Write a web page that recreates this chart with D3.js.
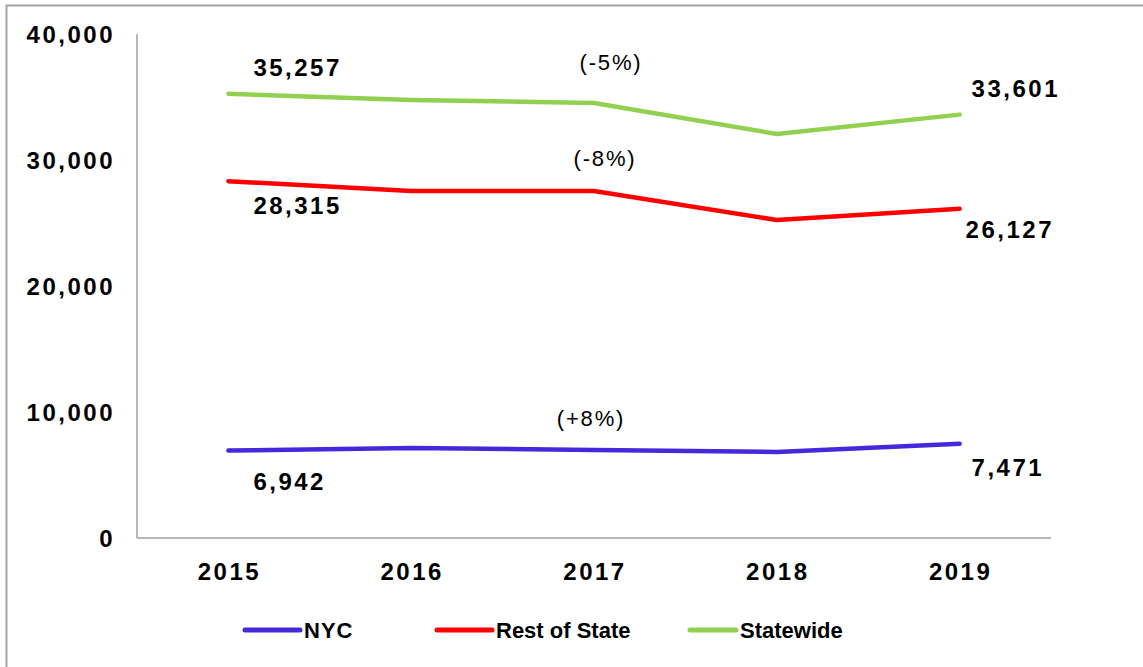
<!DOCTYPE html>
<html lang="en">
<head>
  <meta charset="UTF-8">
  <title>NY line chart</title>
  <script src="https://d3js.org/d3.v7.min.js"></script>
  <style>
    body { margin: 0; background: #fff; }
    text { font-family: "Liberation Sans", Arial, sans-serif; fill: #000; }
    .axis-label { font-size: 24px; font-weight: bold; letter-spacing: 2.5px; }
    .value-label { font-size: 24px; font-weight: bold; letter-spacing: 2.5px; }
    .pct-label { font-size: 22px; letter-spacing: 1.8px; }
    .legend-label { font-size: 22px; font-weight: bold; }
  </style>
</head>
<body>
  <div id="chart"></div>
  <script>
    // Data
    const years = ["2015", "2016", "2017", "2018", "2019"];
    const seriesNames = ["NYC", "Rest of State", "Statewide"];
    const nycValues = [6942, 7143, 6984, 6825, 7471];
    const restValues = [28315, 27540, 27540, 25238, 26127];
    const stateValues = [35257, 34762, 34524, 32063, 33601];
    const yTicks = [0, 10000, 20000, 30000, 40000];
    const pctLabels = ["(+8%)", "(-8%)", "(-5%)"]; // NYC, Rest of State, Statewide

    const colors = { "NYC": "#4428dc", "Rest of State": "#ff0000", "Statewide": "#92d050" };

    const W = 1143, H = 667;
    const margin = { top: 34, right: 92, bottom: 129, left: 137 };
    const width = W - margin.left - margin.right;
    const height = H - margin.top - margin.bottom;

    const svg = d3.select("#chart").append("svg")
      .attr("width", W)
      .attr("height", H);

    // outer frame
    svg.append("rect")
      .attr("x", 6.5).attr("y", 5.5)
      .attr("width", W).attr("height", H)
      .attr("fill", "none")
      .attr("stroke", "#a6a6a6")
      .attr("stroke-width", 2);

    const g = svg.append("g").attr("transform", `translate(${margin.left},${margin.top})`);

    const x = d3.scaleBand().domain(years).range([0, width]);
    const y = d3.scaleLinear().domain([0, 40000]).range([height, 0]);
    const cx = d => x(d) + x.bandwidth() / 2;

    const series = [
      { name: "NYC", values: nycValues, pct: pctLabels[0] },
      { name: "Rest of State", values: restValues, pct: pctLabels[1] },
      { name: "Statewide", values: stateValues, pct: pctLabels[2] }
    ];

    // axes lines
    g.append("line")
      .attr("x1", 0).attr("x2", 0).attr("y1", 0).attr("y2", height)
      .attr("stroke", "#a0a0a0").attr("stroke-width", 1.5);
    g.append("line")
      .attr("x1", 0).attr("x2", width).attr("y1", height).attr("y2", height)
      .attr("stroke", "#a0a0a0").attr("stroke-width", 1.5);

    // y tick labels
    g.selectAll(".ytick")
      .data(yTicks)
      .enter().append("text")
      .attr("class", "axis-label")
      .attr("x", -22)
      .attr("y", d => y(d))
      .attr("dy", "0.36em")
      .attr("text-anchor", "end")
      .text(d => d3.format(",")(d));

    // x tick labels
    g.selectAll(".xtick")
      .data(years)
      .enter().append("text")
      .attr("class", "axis-label")
      .attr("x", d => cx(d) + 1)
      .attr("y", height + 42)
      .attr("text-anchor", "middle")
      .text(d => d);

    // lines
    const line = d3.line()
      .x((d, i) => cx(years[i]))
      .y(d => y(d));

    g.selectAll(".series")
      .data(series)
      .enter().append("path")
      .attr("d", d => line(d.values))
      .attr("fill", "none")
      .attr("stroke", d => colors[d.name])
      .attr("stroke-width", 4.5)
      .attr("stroke-linecap", "round")
      .attr("stroke-linejoin", "round");

    // value labels at first and last points
    const labelOffsets = {
      "NYC": { first: [25, 39], last: [12, 32] },
      "Rest of State": { first: [25, 33], last: [6, 29] },
      "Statewide": { first: [25, -18], last: [12, -18] }
    };
    series.forEach(s => {
      const n = s.values.length - 1;
      [[0, "first"], [n, "last"]].forEach(([i, key]) => {
        const off = labelOffsets[s.name][key];
        g.append("text")
          .attr("class", "value-label")
          .attr("x", cx(years[i]) + off[0])
          .attr("y", y(s.values[i]) + off[1])
          .text(d3.format(",")(s.values[i]));
      });
    });

    // percent change annotations above 2017
    const pctOffsets = { "NYC": [-3, -24], "Rest of State": [11, -25], "Statewide": [17, -33] };
    series.forEach(s => {
      const off = pctOffsets[s.name];
      g.append("text")
        .attr("class", "pct-label")
        .attr("x", cx("2017") + off[0])
        .attr("y", y(s.values[2]) + off[1])
        .attr("text-anchor", "middle")
        .text(s.pct);
    });

    // legend
    const legendX = [245, 437, 690];
    const legendLen = [55, 55, 46];
    const legend = svg.append("g");
    seriesNames.forEach((name, i) => {
      legend.append("line")
        .attr("x1", legendX[i]).attr("x2", legendX[i] + legendLen[i])
        .attr("y1", 630).attr("y2", 630)
        .attr("stroke", colors[name])
        .attr("stroke-width", 5)
        .attr("stroke-linecap", "round");
      legend.append("text")
        .attr("class", "legend-label")
        .attr("x", legendX[i] + legendLen[i] + 4)
        .attr("y", 638)
        .attr("font-size", name === "NYC" ? 24 : null)
        .attr("letter-spacing", name === "NYC" ? 1 : 0)
        .text(name);
    });
  </script>
</body>
</html>
